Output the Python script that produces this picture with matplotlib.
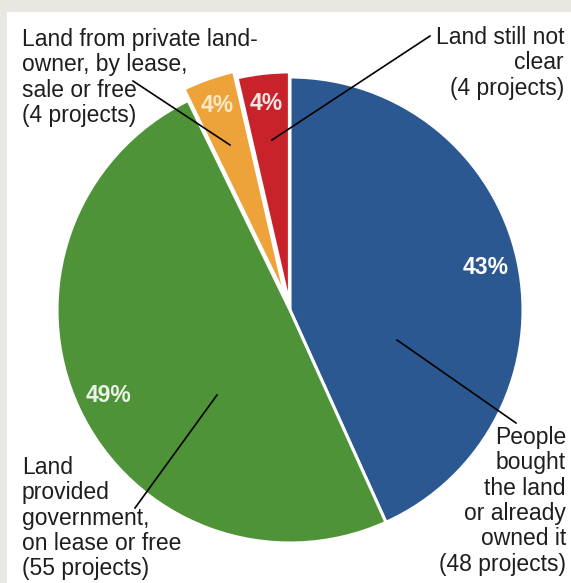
import numpy as np
import matplotlib.pyplot as plt
from matplotlib.patches import Rectangle

W, H = 571, 583

# slices, clockwise from 12 o'clock
projects = [48, 55, 4, 4]
pct_text = ["43%", "49%", "4%", "4%"]
colors = ["#2c5892", "#4f9339", "#eea23a", "#c8232b"]
pct_colors = ["white", "#eef3e8", "#fde9c6", "#f7e4e4"]

labels = [
    "People\nbought\nthe land\nor already\nowned it\n({} projects)",
    "Land\nprovided\ngovernment,\non lease or free\n({} projects)",
    "Land from private land-\nowner, by lease,\nsale or free\n({} projects)",
    "Land still not\nclear\n({} projects)",
]

FONT = ["Liberation Sans", "DejaVu Sans"]


def py(y):
    # pixel row (from top) -> data y
    return H - y


fig = plt.figure(figsize=(W / 100, H / 100), dpi=100)
fig.patch.set_facecolor("#e8e8e0")
ax = fig.add_axes([0, 0, 1, 1])

# white panel inside the grey frame
ax.add_patch(Rectangle((7, 0), W - 7, H - 12, facecolor="white", edgecolor="none", zorder=0))

cx, cy, R = 290, py(310), 233
# pie() takes explode in data units, so scale by the radius
explode = [f * R for f in (0, 0, 0.052, 0.022)]
pct_dist = [0.86, 0.86, 0.88, 0.87]

wedges, _ = ax.pie(
    projects,
    colors=colors,
    explode=explode,
    startangle=90,
    counterclock=False,
    center=(cx, cy),
    radius=R,
    wedgeprops=dict(edgecolor="white", linewidth=2.2),
    frame=True,
)
ax.set_xlim(0, W)
ax.set_ylim(0, H)
ax.set_aspect("equal")
ax.axis("off")

# percentage labels inside each wedge
for w, s, c, d in zip(wedges, pct_text, pct_colors, pct_dist):
    ang = np.deg2rad((w.theta1 + w.theta2) / 2)
    x0, y0 = w.center
    ax.text(x0 + d * R * np.cos(ang), y0 + d * R * np.sin(ang), s,
            ha="center", va="center", color=c, fontsize=16.5, fontweight="bold",
            family=FONT)

# category labels with leader lines
text_kw = dict(fontsize=16.5, linespacing=1.13, color="#1e1e1e", family=FONT)
ax.text(22, py(28), labels[2].format(projects[2]), ha="left", va="top", **text_kw)
ax.text(564, py(26), labels[3].format(projects[3]), ha="right", va="top", **text_kw)
ax.text(22, py(456), labels[1].format(projects[1]), ha="left", va="top", **text_kw)
ax.text(566, py(426), labels[0].format(projects[0]), ha="right", va="top", **text_kw)

line_kw = dict(color="black", lw=1.2)
ax.plot([133, 230], [py(81), py(145)], **line_kw)
ax.plot([430, 272], [py(36), py(140)], **line_kw)
ax.plot([135, 217], [py(508), py(395)], **line_kw)
ax.plot([516, 397], [py(423), py(340)], **line_kw)

fig.savefig("out.png", dpi=100, facecolor=fig.get_facecolor())
